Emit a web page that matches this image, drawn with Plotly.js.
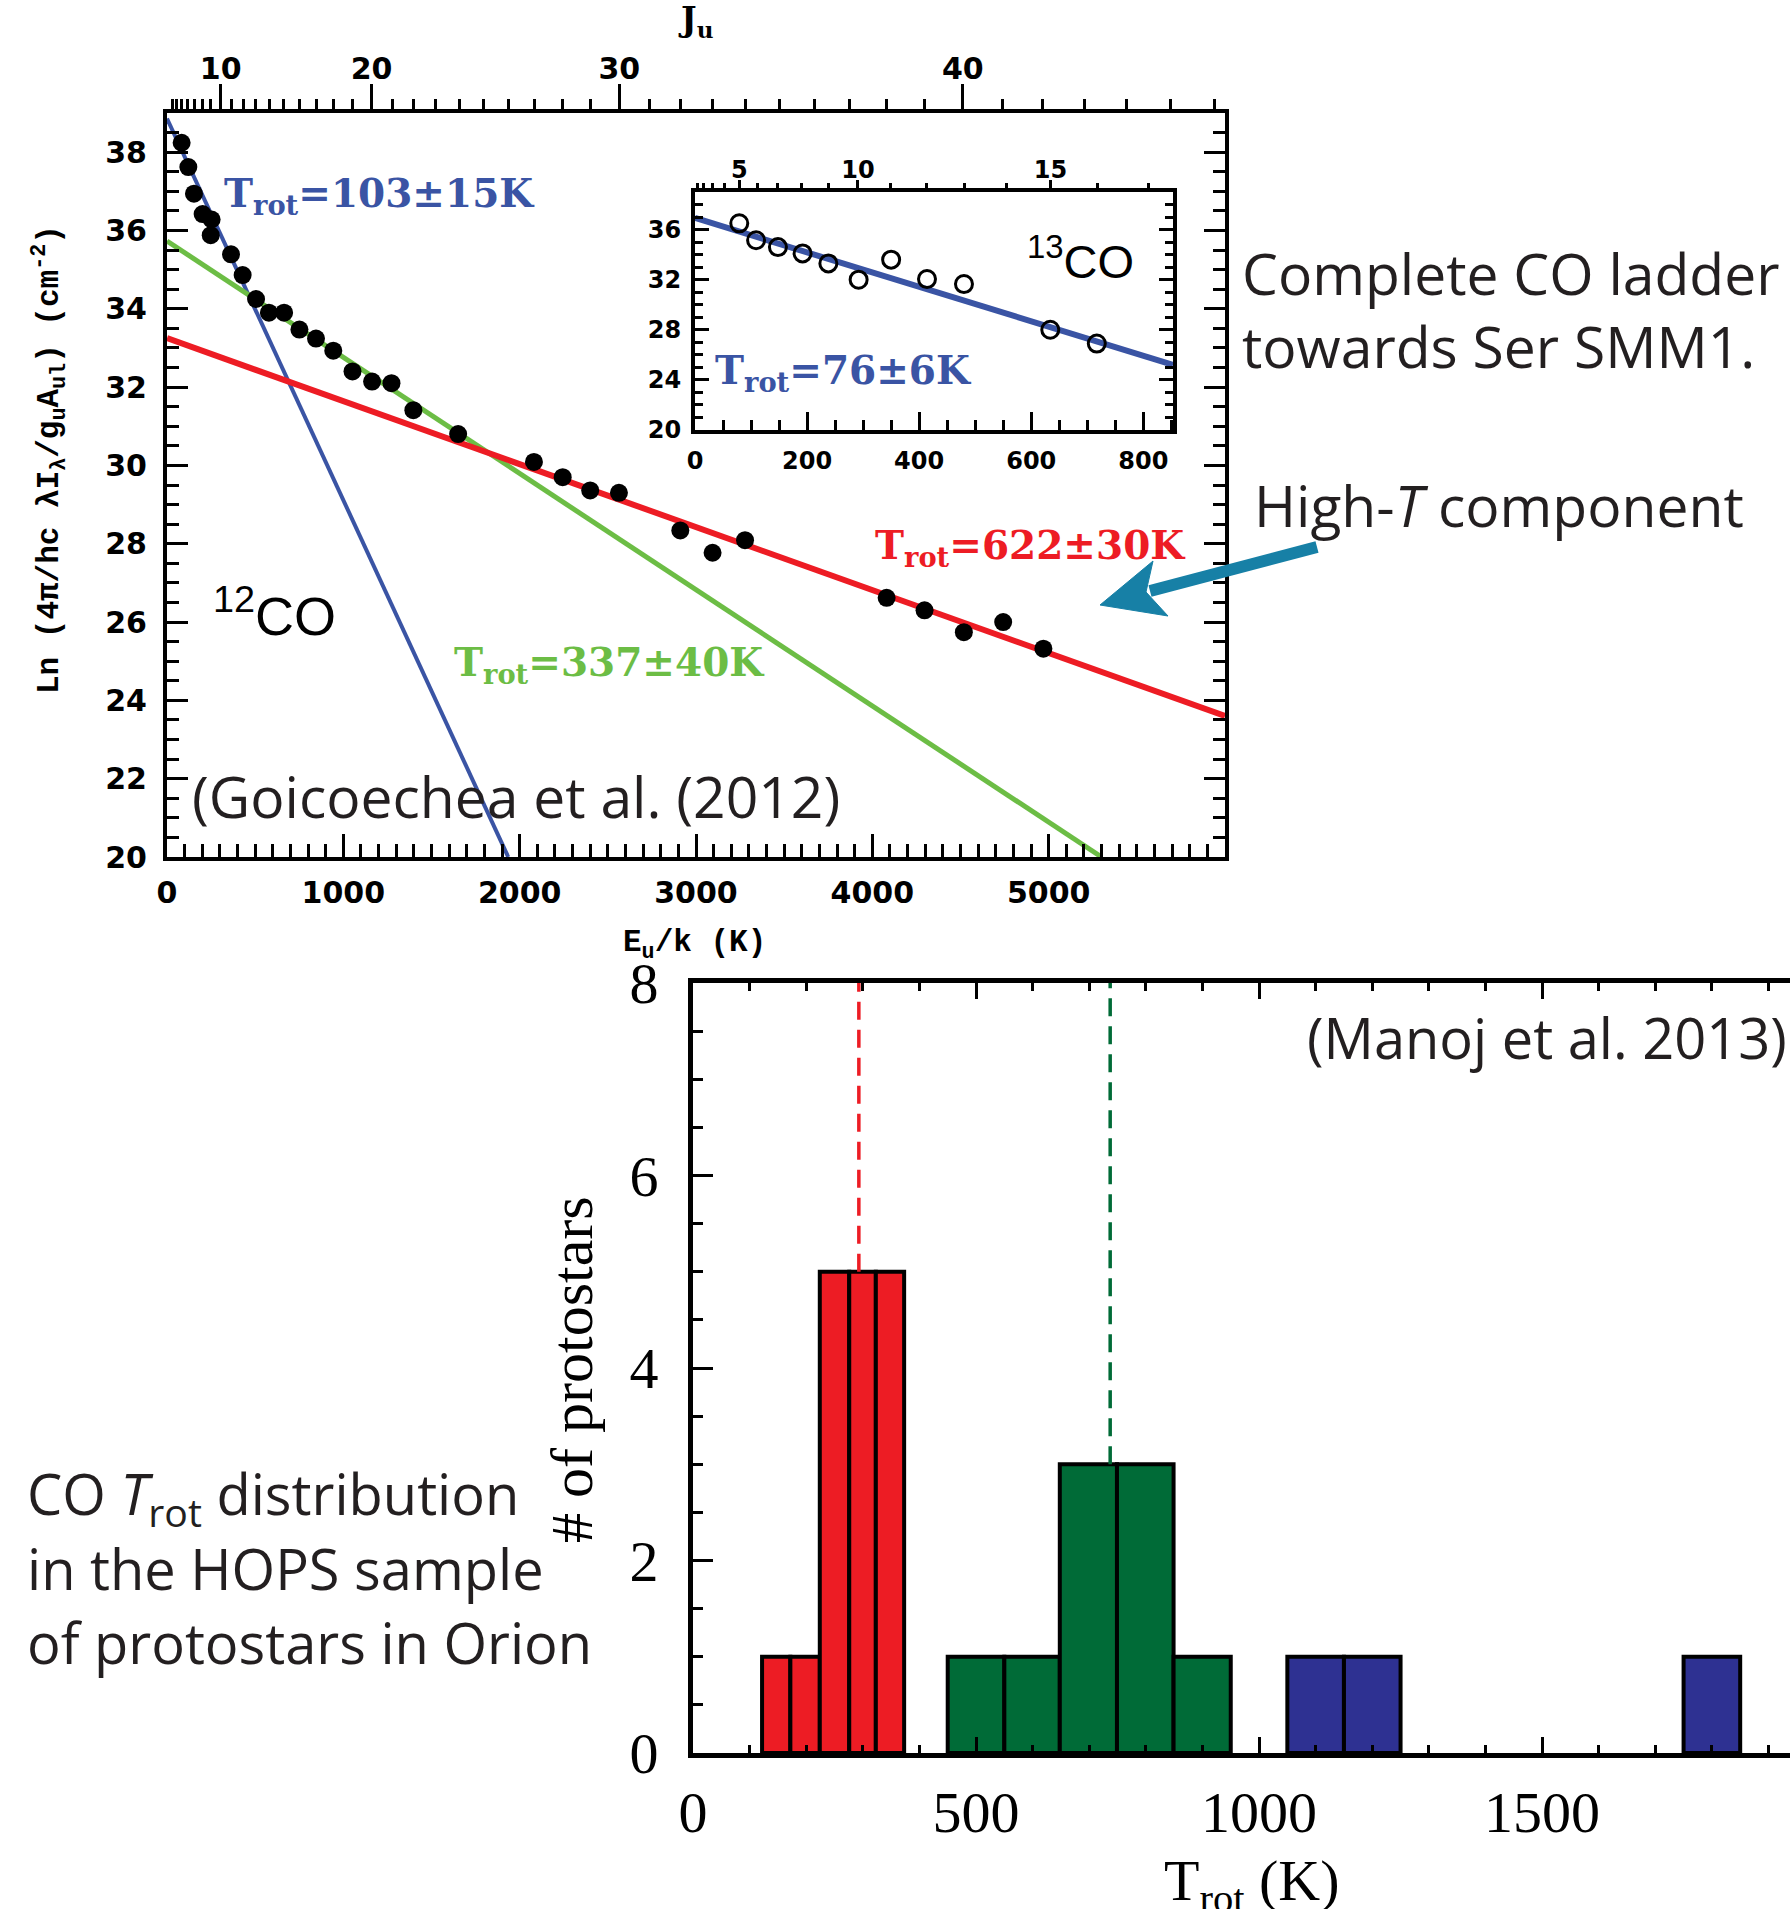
<!DOCTYPE html>
<html>
<head>
<meta charset="utf-8">
<script src="https://cdn.plot.ly/plotly-3.0.1.min.js"></script>
<style>
html,body{margin:0;padding:0;background:#fff;}
#chart{width:1790px;height:1909px;}
</style>
</head>
<body>
<div id="chart"></div>
<script>
// ---------------- DATA ----------------
// 12CO rotational diagram (Ser SMM1, Goicoechea et al. 2012)
const co12E  = [83,121,153,202,253,248,363,429,505,578,664,751,845,943,1052,1163,1273,1397,1651,2081,2244,2400,2563,2911,3094,3278,4081,4296,4519,4742,4970];
const co12Ln = [38.24,37.62,36.94,36.42,36.28,35.88,35.39,34.86,34.25,33.90,33.90,33.47,33.24,32.93,32.40,32.14,32.10,31.41,30.80,30.09,29.70,29.36,29.30,28.34,27.77,28.09,26.62,26.30,25.74,26.00,25.32];
// fits (end points)
const fitColdE = [0, 1935],  fitColdLn = [38.86, 20.0];   // Trot = 103 K
const fitWarmE = [0, 5300],  fitWarmLn = [35.73, 20.0];   // Trot = 337 K
const fitHotE  = [0, 6000],  fitHotLn  = [33.25, 23.6];   // Trot = 622 K
// 13CO inset
const co13E  = [79,109,148,192,238,292,350,414,480,634,717];
const co13Ln = [36.5,35.15,34.6,34.1,33.3,32.0,33.6,32.05,31.65,28.0,26.9];
const fit13E = [0, 853], fit13Ln = [36.93, 25.2];         // Trot = 76 K
// J_u tick labels
const jMajor12 = [10,20,30,40];
const jMajor13 = [5,10,15];
// HOPS histogram (Manoj et al. 2013)
const redEdges   = [122,172,224,276,323,373];
const redCounts  = [1,1,5,5,5];
const greenEdges = [450,550,648,749,849,950];
const greenCounts= [1,1,3,3,1];
const blueLeft   = [1050,1150,1750];
const blueRight  = [1150,1250,1850];
const blueCounts = [1,1,1];
const redMedian = 293, greenMedian = 737;

// ---------------- HELPERS ----------------
const W = 1790, H = 1909;
const px = x => x / W, py = y => 1 - y / H;
// rotational level energy (K) of CO / 13CO
const E12 = J => 2.7665*J*(J+1) - 8.9e-6*Math.pow(J*(J+1),2);
const E13 = J => 2.6447*J*(J+1) - 8.1e-6*Math.pow(J*(J+1),2);
const range = (a,b) => { const r=[]; for(let i=a;i<=b;i++) r.push(i); return r; };
const centers = e => e.slice(0,-1).map((v,i)=>(v+e[i+1])/2);
const widths  = e => e.slice(0,-1).map((v,i)=>e[i+1]-v);

const BLUE='#3a54a4', GREEN='#6cbd45', RED='#ed1c24';
const HRED='#ed1c24', HGREEN='#006b37', HBLUE='#2e3192';
const IDLFONT = 'DejaVu Sans, Liberation Sans, sans-serif';
const SERIFB = 'DejaVu Serif, Liberation Serif, serif';
const MONO = 'Liberation Mono, Courier New, monospace';
const MYRIAD = 'Open Sans, Noto Sans, sans-serif';
const TIMES = 'Liberation Serif, Times New Roman, serif';
const TXT = '#231f20';

// ---------------- TRACES ----------------
const traces = [
  {x: fitColdE, y: fitColdLn, mode:'lines', line:{color:BLUE, width:4}, xaxis:'x', yaxis:'y', hoverinfo:'skip'},
  {x: fitWarmE, y: fitWarmLn, mode:'lines', line:{color:GREEN, width:5}, xaxis:'x', yaxis:'y', hoverinfo:'skip'},
  {x: fitHotE,  y: fitHotLn,  mode:'lines', line:{color:RED, width:6}, xaxis:'x', yaxis:'y', hoverinfo:'skip'},
  {x: co12E, y: co12Ln, mode:'markers', marker:{color:'black', size:18}, xaxis:'x', yaxis:'y', name:'12CO'},
  // invisible trace to activate top J axis
  {x: [0], y: [20], mode:'markers', marker:{opacity:0}, xaxis:'x2', yaxis:'y', hoverinfo:'skip'},
  // inset
  {x: fit13E, y: fit13Ln, mode:'lines', line:{color:BLUE, width:6}, xaxis:'x3', yaxis:'y3', hoverinfo:'skip'},
  {x: co13E, y: co13Ln, mode:'markers', marker:{color:'rgba(0,0,0,0)', size:17, line:{color:'black', width:3}}, xaxis:'x3', yaxis:'y3', name:'13CO'},
  {x: [0], y: [20], mode:'markers', marker:{opacity:0}, xaxis:'x4', yaxis:'y3', hoverinfo:'skip'},
  // histogram
  {type:'bar', x: centers(redEdges), width: widths(redEdges), y: redCounts, marker:{color:HRED, line:{color:'black', width:4}}, xaxis:'x5', yaxis:'y5'},
  {type:'bar', x: centers(greenEdges), width: widths(greenEdges), y: greenCounts, marker:{color:HGREEN, line:{color:'black', width:4}}, xaxis:'x5', yaxis:'y5'},
  {type:'bar', x: blueLeft.map((v,i)=>(v+blueRight[i])/2), width: blueLeft.map((v,i)=>blueRight[i]-v), y: blueCounts, marker:{color:HBLUE, line:{color:'black', width:4}}, xaxis:'x5', yaxis:'y5'},
  {x:[redMedian, redMedian], y:[Math.max(...redCounts), 8], mode:'lines', line:{color:HRED, width:3.5, dash:'18px,10px'}, xaxis:'x5', yaxis:'y5', hoverinfo:'skip'},
  {x:[greenMedian, greenMedian], y:[Math.max(...greenCounts), 8], mode:'lines', line:{color:HGREEN, width:3.5, dash:'18px,10px'}, xaxis:'x5', yaxis:'y5', hoverinfo:'skip'}
];

// ---------------- AXES ----------------
const idlAxis = (o) => Object.assign({
  showgrid:false, zeroline:false, showline:true, linecolor:'black', linewidth:4,
  ticks:'inside', tickcolor:'black', tickwidth:3, fixedrange:true,
  tickfont:{family:IDLFONT, size:30, color:'black', weight:'bold'}
}, o);

const layout = {
  width: W, height: H,
  margin:{l:0, r:0, t:0, b:0},
  paper_bgcolor:'white', plot_bgcolor:'rgba(0,0,0,0)',
  showlegend:false, barmode:'overlay',
  font:{family:MYRIAD, color:'black'},
  // main 12CO plot
  xaxis: idlAxis({domain:[px(167), px(1225)], anchor:'y', range:[0,6000], tickmode:'array',
    tickvals:[0,1000,2000,3000,4000,5000], ticklen:23, ticklabelstandoff:6,
    minor:{dtick:100, ticklen:13, tickwidth:3, tickcolor:'black', ticks:'inside'}}),
  xaxis2: idlAxis({overlaying:'x', anchor:'y', side:'top', range:[0,6000], tickmode:'array',
    tickvals: jMajor12.map(E12), ticktext: jMajor12.map(String), ticks:'outside', ticklen:25, ticklabelstandoff:-7,
    minor:{tickmode:'array', tickvals: range(3,46).map(E12), ticklen:10, tickwidth:3, tickcolor:'black', ticks:'outside'}}),
  yaxis: idlAxis({domain:[py(857), py(113)], anchor:'x', range:[20,39], tickmode:'array',
    tickvals:[20,22,24,26,28,30,32,34,36,38], ticklen:21, mirror:'ticks', ticklabelstandoff:10,
    minor:{dtick:0.5, ticklen:12, tickwidth:3, tickcolor:'black', ticks:'inside'}}),
  // inset 13CO
  xaxis3: idlAxis({domain:[px(695), px(1173)], anchor:'y3', range:[0,853], tickmode:'array',
    tickvals:[0,200,400,600,800], ticklen:18, ticklabelstandoff:6,
    tickfont:{family:IDLFONT, size:24, color:'black', weight:'bold'},
    minor:{dtick:50, ticklen:10, tickwidth:3, tickcolor:'black', ticks:'inside'}}),
  xaxis4: idlAxis({overlaying:'x3', anchor:'y3', side:'top', range:[0,853], tickmode:'array',
    tickvals: jMajor13.map(E13), ticktext: jMajor13.map(String), ticks:'outside', ticklen:8, ticklabelstandoff:-8,
    tickfont:{family:IDLFONT, size:24, color:'black', weight:'bold'},
    minor:{tickmode:'array', tickvals: range(1,17).map(E13), ticklen:5, tickwidth:3, tickcolor:'black', ticks:'outside'}}),
  yaxis3: idlAxis({domain:[py(430), py(192)], anchor:'x3', range:[20,39], tickmode:'array',
    tickvals:[20,24,28,32,36], ticklen:14, mirror:'ticks', ticklabelstandoff:5,
    tickfont:{family:IDLFONT, size:24, color:'black', weight:'bold'},
    minor:{dtick:1, ticklen:8, tickwidth:3, tickcolor:'black', ticks:'inside'}}),
  // histogram
  xaxis5: {domain:[px(693), 1], anchor:'y5', range:[0,1938], tickmode:'array', tickvals:[0,500,1000,1500],
    showgrid:false, zeroline:false, showline:true, linecolor:'black', linewidth:5, mirror:'ticks',
    ticks:'inside', ticklen:16, tickwidth:3, tickcolor:'black', ticklabelstandoff:4, fixedrange:true,
    tickfont:{family:TIMES, size:58, color:'black'},
    minor:{dtick:100, ticklen:8, tickwidth:3, tickcolor:'black', ticks:'inside'}},
  yaxis5: {domain:[py(1753), py(983)], anchor:'x5', range:[0,8], tickmode:'array', tickvals:[0,2,4,6,8],
    showgrid:false, zeroline:false, showline:true, linecolor:'black', linewidth:5,
    ticks:'inside', ticklen:20, tickwidth:3, tickcolor:'black', ticklabelstandoff:18, fixedrange:true,
    tickfont:{family:TIMES, size:58, color:'black'},
    minor:{dtick:0.5, ticklen:10, tickwidth:3, tickcolor:'black', ticks:'inside'}},
  annotations: [],
  shapes: []
};

const ann = (text, x, y, o) => layout.annotations.push(Object.assign({
  text, x: px(x), y: py(y), xref:'paper', yref:'paper', showarrow:false,
  xanchor:'left', yanchor:'middle'}, o));

// axis titles
ann('<b>J<sub>u</sub></b>', 695, 22, {xanchor:'center', font:{family:SERIFB, size:33, color:'black'}});
ann('<b>E<sub>u</sub>/k (K)</b>', 694, 945, {xanchor:'center', font:{family:MONO, size:31, color:'black'}});
ann('<b>Ln (4π/hc λI<sub>λ</sub>/g<sub>u</sub>A<sub>ul</sub>) (cm<sup>-2</sup>)</b>', 49, 460, {xanchor:'center', textangle:-90, font:{family:MONO, size:31, color:'black'}});
ann('# of protostars', 572, 1370, {xanchor:'center', textangle:-90, font:{family:TIMES, size:60, color:'black'}});
ann('T<sub>rot</sub> (K)', 1252, 1884, {xanchor:'center', font:{family:TIMES, size:58, color:'black'}});

// fit labels
ann('<b>T<sub>rot</sub>=103±15K</b>', 222, 196, {font:{family:SERIFB, size:39, color:BLUE}});
ann('<b>T<sub>rot</sub>=337±40K</b>', 452, 664, {font:{family:SERIFB, size:39, color:GREEN}});
ann('<b>T<sub>rot</sub>=622±30K</b>', 873, 547, {font:{family:SERIFB, size:39, color:RED}});
ann('<b>T<sub>rot</sub>=76±6K</b>', 713, 372, {font:{family:SERIFB, size:39, color:BLUE}});
ann('<sup>12</sup>CO', 211, 612, {font:{family:'Liberation Sans, Arial, sans-serif', size:54, color:'black'}});
ann('<sup>13</sup>CO', 1025, 258, {font:{family:'Liberation Sans, Arial, sans-serif', size:47, color:'black'}});

// descriptive texts
ann('(Goicoechea et al. (2012)', 190, 796, {font:{family:MYRIAD, size:57, color:TXT}});
ann('(Manoj et al. 2013)', 1789, 1037, {xanchor:'right', font:{family:MYRIAD, size:56, color:TXT}});
ann('Complete CO ladder', 1240, 273, {font:{family:MYRIAD, size:57, color:TXT}});
ann('towards Ser SMM1.', 1240, 346, {font:{family:MYRIAD, size:57, color:TXT}});
ann('High-<i>T</i> component', 1252, 505, {font:{family:MYRIAD, size:57, color:TXT}});
ann('CO <i>T</i><sub>rot</sub> distribution', 25, 1496, {font:{family:MYRIAD, size:56, color:TXT}});
ann('in the HOPS sample', 25, 1568, {font:{family:MYRIAD, size:56, color:TXT}});
ann('of protostars in Orion', 25, 1642, {font:{family:MYRIAD, size:56, color:TXT}});

// arrow (High-T component)
const ARROW = '#1780a6';
layout.shapes.push({type:'line', xref:'paper', yref:'paper', x0:px(1317), y0:py(547), x1:px(1150), y1:py(591),
  line:{color:ARROW, width:12}});
const head = [[1100,605],[1153,561],[1146,592],[1168,616]];
layout.shapes.push({type:'path', xref:'paper', yref:'paper',
  path: 'M' + head.map(p => px(p[0]) + ',' + py(p[1])).join(' L') + ' Z',
  fillcolor:ARROW, line:{color:ARROW, width:1}});

Plotly.newPlot('chart', traces, layout, {displayModeBar:false, staticPlot:true});
</script>
</body>
</html>
